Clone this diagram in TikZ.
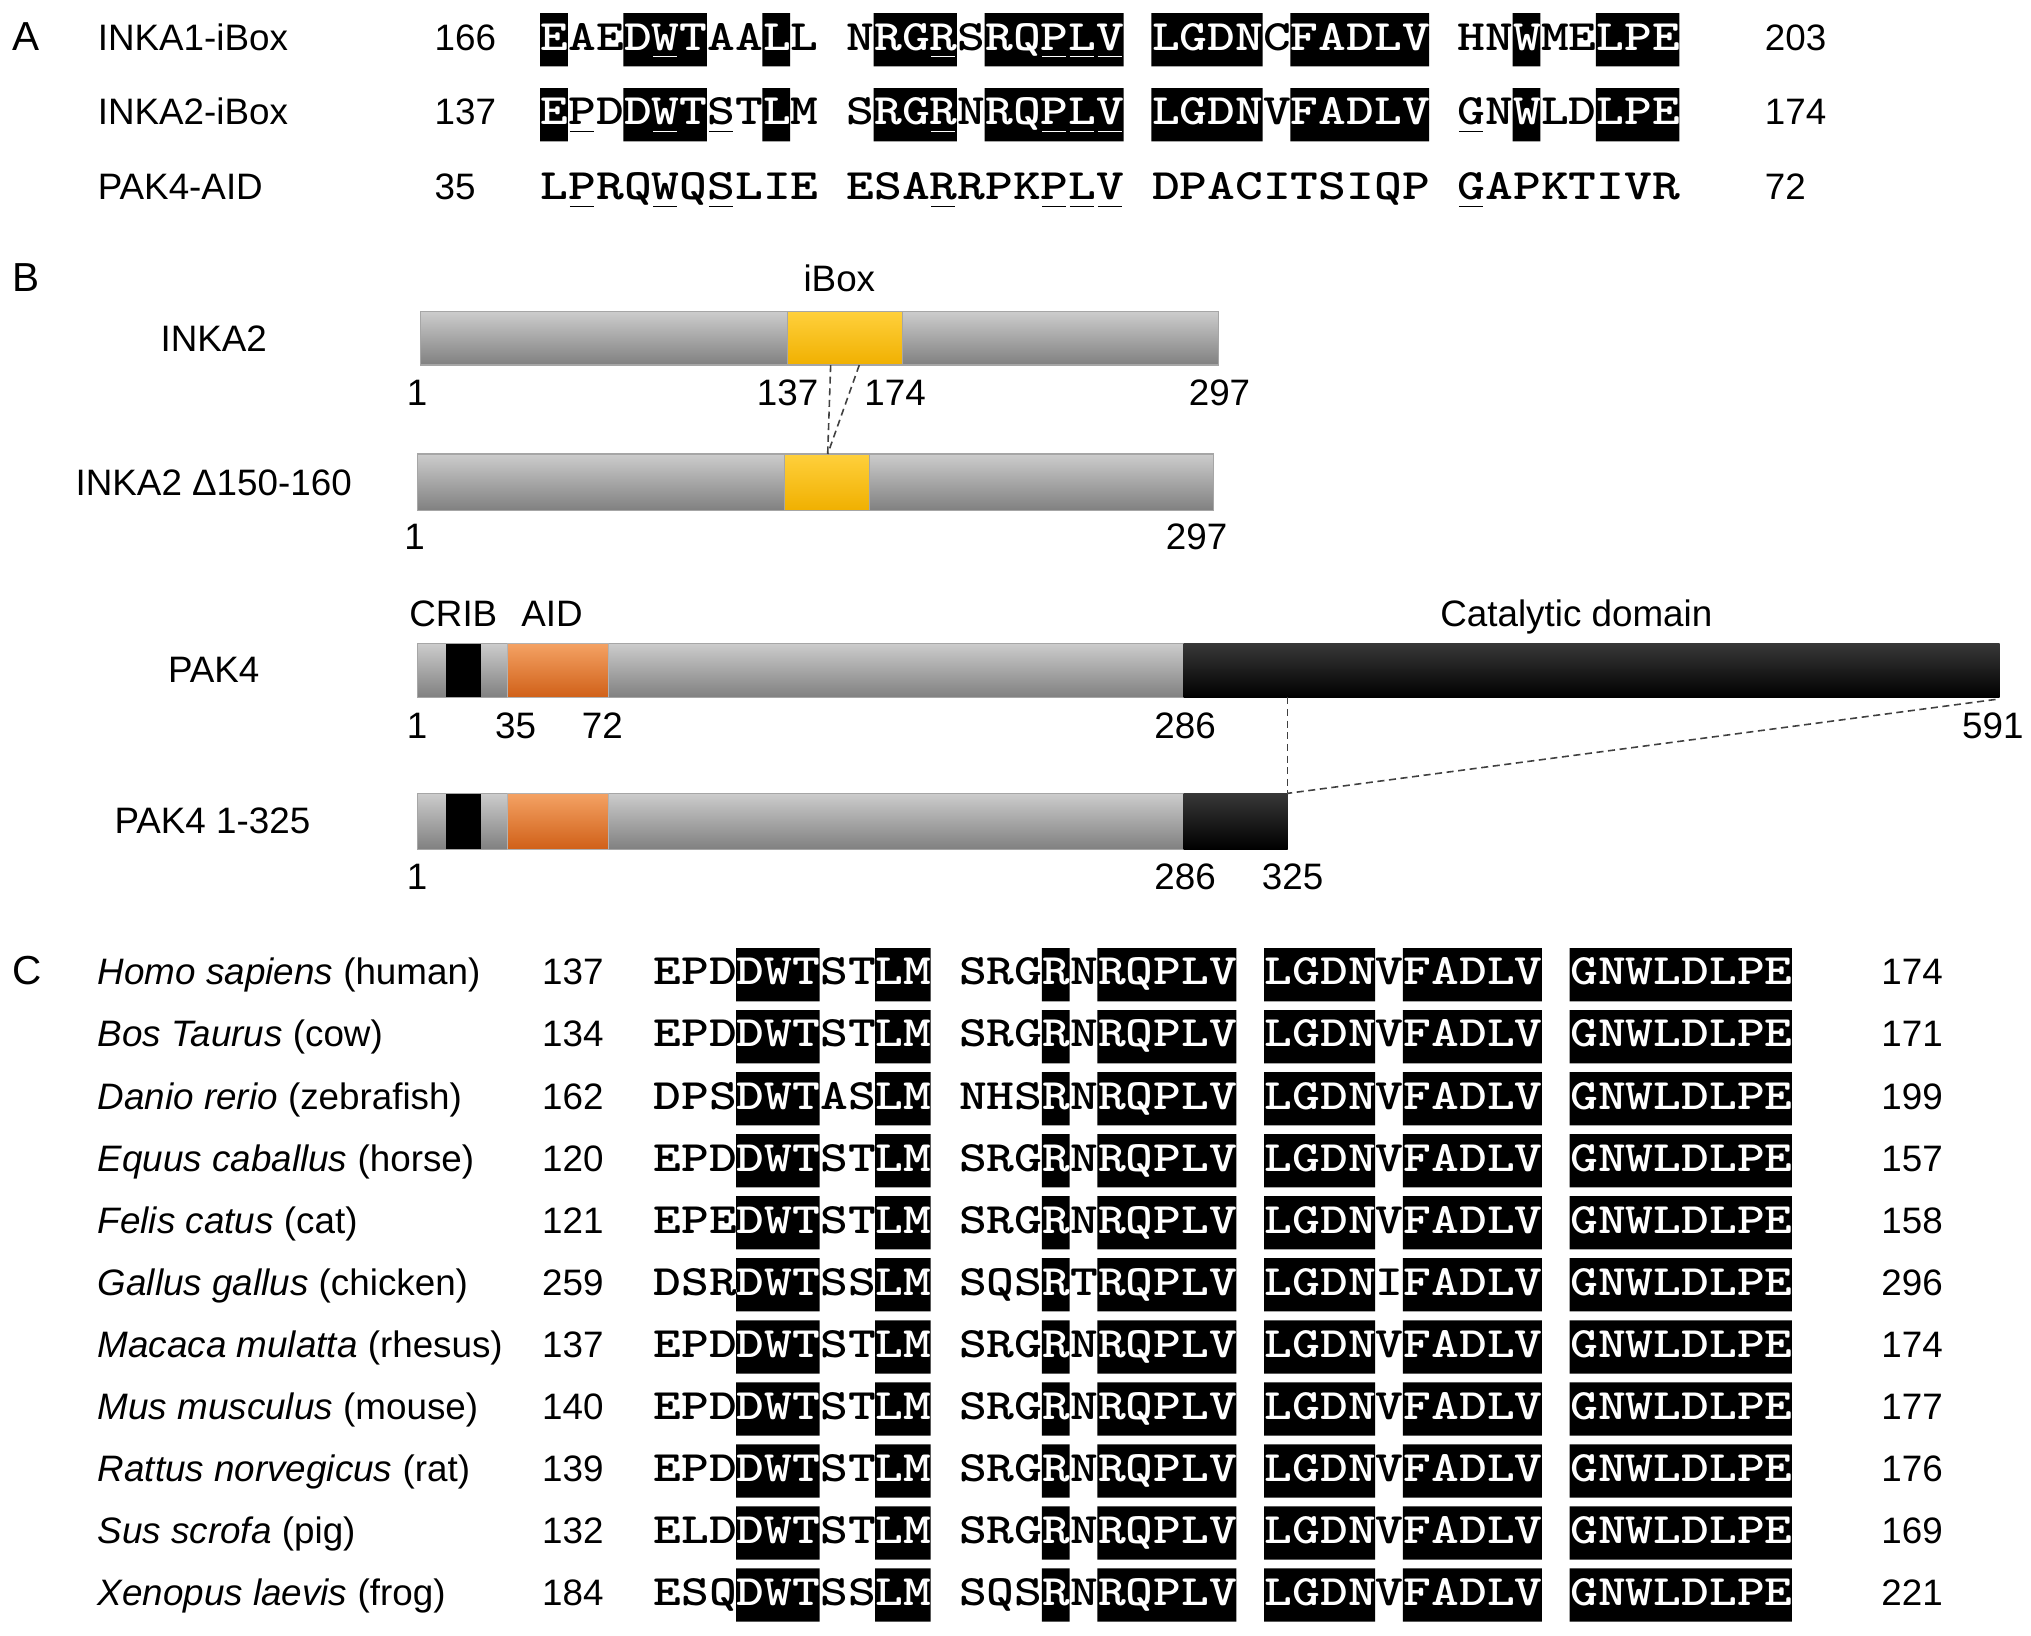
\documentclass[tikz,border=0pt]{standalone}
\usepackage{fontspec}
\setmainfont{Liberation Sans}
\usepackage{graphicx}
\usepackage{tikz}

\definecolor{barTop}{RGB}{204,204,204}
\definecolor{barBot}{RGB}{128,128,128}
\definecolor{yelTop}{RGB}{255,208,60}
\definecolor{yelBot}{RGB}{240,176,0}
\definecolor{orTop}{RGB}{244,162,100}
\definecolor{orBot}{RGB}{208,96,24}

\tikzset{
  lbl/.style={inner sep=0pt, font=\fontsize{10.44}{12}\selectfont},
  num/.style={lbl, anchor=base},
  panel/.style={inner sep=0pt, anchor=base west, font=\fontsize{11.5}{13}\selectfont},
  seq/.style={inner sep=0pt, anchor=base west, font=\fontsize{12.3}{14}\selectfont\ttfamily\bfseries},
  uline/.style={line width=0.5pt},
  graybar/.style={draw=gray!70, line width=0.3pt, top color=barTop, bottom color=barBot},
  ibox/.style={draw=gray!70, line width=0.3pt, top color=yelTop, bottom color=yelBot},
  aid/.style={draw=gray!60, line width=0.3pt, top color=orTop, bottom color=orBot},
  crib/.style={fill=black},
  cat/.style={top color=black!78, middle color=black, bottom color=black},
  link/.style={dash pattern=on 2pt off 1.3pt, line width=0.45pt, draw=black!75},
}

% residues are stretched to the Courier pitch of the figure
\newcommand{\seqtxt}[1]{\scalebox{1.2207}[1]{#1}}
\newcommand{\ulines}[3]{%
  \if\relax\detokenize{#3}\relax\else
    \foreach \u in {#3} {\draw[uline] (#1+\u*21.45+1.5,#2+5) -- ++(18.45,0);}
  \fi}
\newcommand{\seqrow}[6]{%
  % #1 name, #2 x, #3 baseline, #4 residues, #5 boxes, #6 underlined
  \node[seq] (#1) at (#2,#3) {\seqtxt{#4}};
  \ulines{#2}{#3}{#6}
  \fill \foreach \a/\b in {#5} {(#2+\a*21.45,#3-28.5) rectangle (#2+\b*21.45+21.45,#3+12.6)};
  \begin{scope}
    \clip \foreach \a/\b in {#5} {(#2+\a*21.45,#3-28.5) rectangle (#2+\b*21.45+21.45,#3+12.6)};
    \node[seq, white] (#1w) at (#2,#3) {\seqtxt{#4}};
    \begin{scope}[white] \ulines{#2}{#3}{#6} \end{scope}
  \end{scope}
}
\newcommand{\crow}[6]{%
  % #1 row, #2 species, #3 common name, #4 first, #5 residues, #6 last
  \pgfmathsetmacro{\yb}{760.4+47.9*(#1-1)}
  \node[lbl, anchor=base west] (sp#1) at (75,\yb) {\textit{#2} (#3)};
  \node[lbl, anchor=base west] (cs#1) at (418,\yb) {#4};
  \seqrow{cq#1}{504}{\yb}{#5}{3/5,8/9,14/14,16/20,22/25,27/31,33/40}{}
  \node[lbl, anchor=base west] (ce#1) at (1452,\yb) {#6};
}

\begin{document}
\begin{tikzpicture}[x=0.3675pt, y=-0.3675pt]
  \useasboundingbox (0,0) rectangle (1568,1263);

  % Panel A
  \node[panel] (pA) at (9,38.6) {A};
  \node[lbl, anchor=base west] (lA1) at (75,38.6) {INKA1-iBox};
  \node[lbl, anchor=base west] (lA2) at (75,96.5) {INKA2-iBox};
  \node[lbl, anchor=base west] (lA3) at (75,154.4) {PAK4-AID};
  \node[lbl, anchor=base west] (fA1) at (335,38.6) {166};
  \node[lbl, anchor=base west] (fA2) at (335,96.5) {137};
  \node[lbl, anchor=base west] (fA3) at (335,154.4) {35};
  \seqrow{sA1}{417}{38.6}{EAEDWTAALL NRGRSRQPLV LGDNCFADLV HNWMELPE}{0/0,3/5,8/8,12/14,16/20,22/25,27/31,35/35,38/40}{4,14,18,19,20}
  \seqrow{sA2}{417}{96.5}{EPDDWTSTLM SRGRNRQPLV LGDNVFADLV GNWLDLPE}{0/0,3/5,8/8,12/14,16/20,22/25,27/31,35/35,38/40}{1,4,6,14,18,19,20,33}
  \node[seq] (sA3) at (417,154.4) {\seqtxt{LPRQWQSLIE ESARRPKPLV DPACITSIQP GAPKTIVR}};
  \ulines{417}{154.4}{1,4,6,14,18,19,20,33}
  \node[lbl, anchor=base west] (eA1) at (1362,38.6) {203};
  \node[lbl, anchor=base west] (eA2) at (1362,96.5) {174};
  \node[lbl, anchor=base west] (eA3) at (1362,154.4) {72};

  % Panel B
  \node[panel] (pB) at (9,225.4) {B};

  % INKA2
  \node[lbl] (inka2) at (165,261.2) {INKA2};
  \node[lbl, anchor=base] (iboxlbl) at (648,225.2) {iBox};
  \path[graybar] (324.4,240.6) rectangle (940.4,281.8);
  \path[ibox] (608,240.6) rectangle (696.7,281.8);
  \node[num] (b1a) at (322,312.7) {1};
  \node[num] (b1b) at (608,312.7) {137};
  \node[num] (b1c) at (691,312.7) {174};
  \node[num] (b1d) at (941.5,312.7) {297};

  % INKA2 deletion
  \node[lbl] (inka2d) at (165,372.4) {INKA2 Δ150-160};
  \path[graybar] (322.2,350.5) rectangle (936.9,394.2);
  \path[ibox] (605.8,350.5) rectangle (671,394.2);
  \node[num] (b2a) at (320,424.6) {1};
  \node[num] (b2b) at (923.8,424.6) {297};

  \coordinate (cutL) at (641.3,281.8);
  \coordinate (cutR) at (663.4,281.8);
  \coordinate (cutM) at (639,350.5);
  \draw[link] (cutL) -- (cutM);
  \draw[link] (cutR) -- (cutM);

  % PAK4
  \node[lbl] (pak4) at (165,517.5) {PAK4};
  \node[lbl, anchor=base west] (cribl) at (315.5,483.8) {CRIB};
  \node[lbl, anchor=base west] (aidl) at (402,483.8) {AID};
  \node[lbl, anchor=base] (catl) at (1217,483.4) {Catalytic domain};
  \path[graybar] (322.2,496.7) rectangle (1543.6,538.4);
  \path[crib] (344.3,497) rectangle (371,538.1);
  \path[aid] (391.7,496.7) rectangle (469.8,538.4);
  \path[cat] (913.8,496.7) rectangle (1543.6,538.4);
  \node[num] (b3a) at (322,570) {1};
  \node[num] (b3b) at (398,570) {35};
  \node[num] (b3c) at (465,570) {72};
  \node[num] (b3d) at (915,570) {286};
  \node[num] (b3e) at (1538.5,570) {591};

  % PAK4 1-325
  \node[lbl] (pak4t) at (164,634) {PAK4 1-325};
  \path[graybar] (322.2,612.5) rectangle (994,655.7);
  \path[crib] (344.3,612.8) rectangle (371,655.4);
  \path[aid] (391.7,612.5) rectangle (469.8,655.7);
  \path[cat] (913.8,612.5) rectangle (994,655.7);
  \node[num] (b4a) at (322,687) {1};
  \node[num] (b4b) at (915,687) {286};
  \node[num] (b4c) at (998,687) {325};

  \coordinate (trTop) at (994,538.4);
  \coordinate (trEnd) at (1540.6,540);
  \coordinate (trBot) at (994,612.5);
  \draw[link] (trTop) -- (trBot);
  \draw[link] (trEnd) -- (trBot);

  % Panel C
  \node[panel] (pC) at (9,760.4) {C};
  \crow{1}{Homo sapiens}{human}{137}{EPDDWTSTLM SRGRNRQPLV LGDNVFADLV GNWLDLPE}{174}
  \crow{2}{Bos Taurus}{cow}{134}{EPDDWTSTLM SRGRNRQPLV LGDNVFADLV GNWLDLPE}{171}
  \crow{3}{Danio rerio}{zebrafish}{162}{DPSDWTASLM NHSRNRQPLV LGDNVFADLV GNWLDLPE}{199}
  \crow{4}{Equus caballus}{horse}{120}{EPDDWTSTLM SRGRNRQPLV LGDNVFADLV GNWLDLPE}{157}
  \crow{5}{Felis catus}{cat}{121}{EPEDWTSTLM SRGRNRQPLV LGDNVFADLV GNWLDLPE}{158}
  \crow{6}{Gallus gallus}{chicken}{259}{DSRDWTSSLM SQSRTRQPLV LGDNIFADLV GNWLDLPE}{296}
  \crow{7}{Macaca mulatta}{rhesus}{137}{EPDDWTSTLM SRGRNRQPLV LGDNVFADLV GNWLDLPE}{174}
  \crow{8}{Mus musculus}{mouse}{140}{EPDDWTSTLM SRGRNRQPLV LGDNVFADLV GNWLDLPE}{177}
  \crow{9}{Rattus norvegicus}{rat}{139}{EPDDWTSTLM SRGRNRQPLV LGDNVFADLV GNWLDLPE}{176}
  \crow{10}{Sus scrofa}{pig}{132}{ELDDWTSTLM SRGRNRQPLV LGDNVFADLV GNWLDLPE}{169}
  \crow{11}{Xenopus laevis}{frog}{184}{ESQDWTSSLM SQSRNRQPLV LGDNVFADLV GNWLDLPE}{221}
\end{tikzpicture}
\end{document}
